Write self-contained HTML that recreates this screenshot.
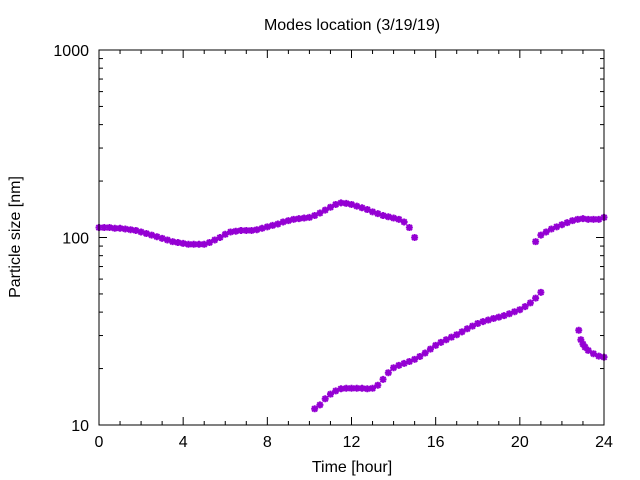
<!DOCTYPE html>
<html><head><meta charset="utf-8"><style>body{margin:0;background:#fff}svg{display:block}text{font-family:"Liberation Sans",sans-serif;font-size:16px;fill:#000}</style></head>
<body>
<svg id="c" width="640" height="480">
<text x="352" y="30" text-anchor="middle">Modes location (3/19/19)</text>
<text x="352" y="472" text-anchor="middle">Time [hour]</text>
<text transform="translate(20,237) rotate(-90)" text-anchor="middle">Particle size [nm]</text>
<g id="axes"></g><g id="marks"></g>
<rect x="99" y="50" width="505" height="375" fill="none" stroke="#000" stroke-width="1"/>
</svg>
<script>
const xTicks=[0,4,8,12,16,20,24];
const yTicks=[10,100,1000];
const tA=0, vA=[113,113,113,112,112,111,110,109,107,105,103,101,99,97,95,94,93,92,92,92,92,94,97,100,104,107,108,109,109,109,110,112,114,116,118,121,123,125,126,127,128,131,135,140,145,150,153,152,150,147,144,141,137,134,131,129,127,125,121,113,100];
const tB=20.75, vB=[95,103,107,111,114,117,120,123,125,126,125,125,125,128];
const tC=10.25, vC=[12.2,12.8,13.8,14.6,15.2,15.6,15.7,15.7,15.7,15.7,15.6,15.7,16.3,17.5,19,20.2,20.8,21.3,21.8,22.4,23.2,24.2,25.4,26.6,27.6,28.5,29.4,30.3,31.4,32.6,33.7,34.8,35.6,36.3,37,37.6,38.3,39.2,40.2,41.2,42.8,44.8,47.5,51];
const hD=[22.8,22.9,23.0,23.1,23.25,23.5,23.75,24];
const vD=[32,28.5,27,26,25,24,23.3,23];
const X0=99,X1=604,Y0=425,Y1=50;
const xs=h=>X0+(h/24)*(X1-X0);
const ys=v=>Y0-(Math.log10(v)-1)/2*(Y0-Y1);
const NS="http://www.w3.org/2000/svg";
const ax=document.getElementById('axes'),mk=document.getElementById('marks');
function ln(x1,y1,x2,y2){const l=document.createElementNS(NS,'line');l.setAttribute('x1',x1);l.setAttribute('y1',y1);l.setAttribute('x2',x2);l.setAttribute('y2',y2);l.setAttribute('stroke','#000');


ax.appendChild(l);}
for(let h=0;h<=24;h++){const x=xs(h),len=h%4==0?8:4;ln(x,Y0,x,Y0-len);ln(x,Y1,x,Y1+len);}
xTicks.forEach(h=>{const t=document.createElementNS(NS,'text');t.setAttribute('x',xs(h));t.setAttribute('y',447);t.setAttribute('text-anchor','middle');t.textContent=h;


ax.appendChild(t);});
for(let d=10;d<1000;d*=10){for(let k=1;k<10;k++){const y=ys(d*k),len=k==1?8:4;ln(X0,y,X0+len,y);ln(X1,y,X1-len,y);}}
ln(X0,Y1,X0+8,Y1);ln(X1,Y1,X1-8,Y1);
yTicks.forEach(v=>{const t=document.createElementNS(NS,'text');t.setAttribute('x',89);t.setAttribute('y',ys(v)+6);t.setAttribute('text-anchor','end');t.textContent=v;


ax.appendChild(t);});
function star(h,v,name){const x=xs(h),y=ys(v),r=3.5,r2=2.6;const p=document.createElementNS(NS,'path');
p.setAttribute('d',`M${x-r},${y}H${x+r}M${x},${y-r}V${y+r}M${x-r2},${y-r2}L${x+r2},${y+r2}M${x-r2},${y+r2}L${x+r2},${y-r2}`);
p.setAttribute('stroke','#9400d3');p.setAttribute('stroke-width','2');


mk.appendChild(p);}
vA.forEach((v,i)=>star(tA+i*0.25,v,'mode-upper-point'));
vB.forEach((v,i)=>star(tB+i*0.25,v,'mode-upper-late-point'));
vC.forEach((v,i)=>star(tC+i*0.25,v,'mode-lower-point'));
vD.forEach((v,i)=>star(hD[i],v,'mode-lower-late-point'));
</script>
</body></html>
